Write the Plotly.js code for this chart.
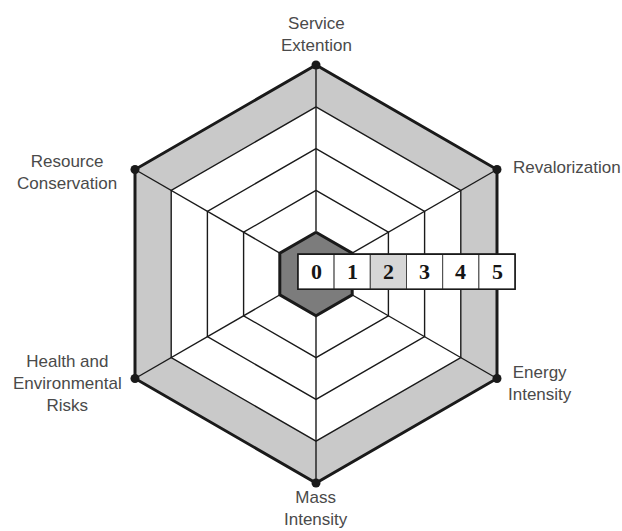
<!DOCTYPE html>
<html>
<head>
<meta charset="utf-8">
<script src="https://cdn.plot.ly/plotly-3.0.1.min.js"></script>
<style>
  html, body { margin: 0; padding: 0; background: #fff; }
  #chart { width: 622px; height: 531px; }
</style>
</head>
<body>
<div id="chart"></div>
<script>
// Hexagon axes, clockwise from the top
const axisNames = [
  'Service<br>Extention',
  'Revalorization',
  'Energy<br>Intensity',
  'Mass<br>Intensity',
  'Health and<br>Environmental<br>Risks',
  'Resource<br>Conservation'
];
const ringLevels = [1, 2, 3, 4, 5];
const scaleLabels = ['0', '1', '2', '3', '4', '5'];
const highlightedLevel = 2;
const maxLevel = 5;

const n = axisNames.length;
const angles = axisNames.map((_, i) => i * 360 / n);

// closed polygon at one ring level
function ring(level) {
  return {
    r: angles.map(() => level).concat(level),
    theta: angles.concat(angles[0])
  };
}

const ink = '#1a1a1a';
const traces = [];

// outer band (4..5) grey, thick border
traces.push({ type: 'scatterpolar', mode: 'lines', ...ring(maxLevel),
  fill: 'toself', fillcolor: '#c9c9c9', line: { color: ink, width: 3 } });

// inner rings
ringLevels.filter(l => l > 1 && l < maxLevel).reverse().forEach((l, i) => {
  const t = { type: 'scatterpolar', mode: 'lines', ...ring(l), line: { color: ink, width: 1.4 } };
  if (i === 0) { t.fill = 'toself'; t.fillcolor = '#ffffff'; }
  traces.push(t);
});

// spokes
const spokeR = [], spokeT = [];
angles.forEach(a => { spokeR.push(0, maxLevel, null); spokeT.push(a, a, null); });
traces.push({ type: 'scatterpolar', mode: 'lines', r: spokeR, theta: spokeT,
  line: { color: ink, width: 1.4 } });

// dark centre hexagon (level 1)
traces.push({ type: 'scatterpolar', mode: 'lines', ...ring(ringLevels[0]),
  fill: 'toself', fillcolor: '#7c7c7c', line: { color: ink, width: 3 } });

// vertex dots
traces.push({ type: 'scatterpolar', mode: 'markers',
  r: angles.map(() => maxLevel), theta: angles,
  marker: { color: ink, size: 9 } });

// invisible cartesian trace so the overlay axes exist for the scale box
traces.push({ type: 'scatter', x: [], y: [], hoverinfo: 'skip' });

// axis labels placed off each outer vertex
const labelPlace = [
  { xanchor: 'center', xshift: 0, yshift: 31 },
  { xanchor: 'left', xshift: 14, yshift: 2 },
  { xanchor: 'center', xshift: 43, yshift: -5 },
  { xanchor: 'center', xshift: 0, yshift: -25 },
  { xanchor: 'center', xshift: -68, yshift: -5 },
  { xanchor: 'center', xshift: -68, yshift: -3 }
];
const annotations = axisNames.map((name, i) => {
  const a = angles[i] * Math.PI / 180;
  return {
    xref: 'paper', yref: 'paper',
    x: 0.5 + 0.5 * Math.sin(a), y: 0.5 + 0.5 * Math.cos(a),
    text: name, showarrow: false, align: 'center',
    xanchor: labelPlace[i].xanchor, yanchor: 'middle',
    xshift: labelPlace[i].xshift, yshift: labelPlace[i].yshift,
    font: { family: 'Liberation Sans, Arial, sans-serif', size: 17, color: '#4a4a4a' }
  };
});

// scale box along the horizontal; 1 cartesian unit = one ring step (inradius)
const half = maxLevel / Math.cos(Math.PI / n);
const boxBottom = -0.42, boxTop = 0.55;
const shapes = [];
scaleLabels.forEach((lab, k) => {
  shapes.push({ type: 'rect', xref: 'x', yref: 'y', layer: 'above',
    x0: k - 0.5, x1: k + 0.5, y0: boxBottom, y1: boxTop,
    fillcolor: k === highlightedLevel ? '#d6d6d6' : '#ffffff',
    line: { color: '#444', width: 1 } });
  annotations.push({ xref: 'x', yref: 'y', x: k, y: (boxBottom + boxTop) / 2,
    text: '<b>' + lab + '</b>', showarrow: false,
    font: { family: 'Liberation Serif, Times New Roman, serif', size: 22, color: '#151515' } });
});
shapes.push({ type: 'rect', xref: 'x', yref: 'y', layer: 'above',
  x0: -0.5, x1: scaleLabels.length - 0.5, y0: boxBottom, y1: boxTop,
  line: { color: ink, width: 1.6 } });

const layout = {
  width: 622, height: 531,
  margin: { l: 107, r: 97, t: 65, b: 48 },
  paper_bgcolor: '#ffffff', plot_bgcolor: 'rgba(0,0,0,0)',
  showlegend: false,
  polar: {
    bgcolor: '#ffffff',
    radialaxis: { visible: false, range: [0, maxLevel] },
    angularaxis: { rotation: 90, direction: 'clockwise', showticklabels: false,
      showgrid: false, showline: false, ticks: '' }
  },
  xaxis: { range: [-half, half], visible: false, fixedrange: true },
  yaxis: { range: [-half, half], visible: false, fixedrange: true },
  shapes: shapes,
  annotations: annotations
};

Plotly.newPlot('chart', traces, layout, { staticPlot: true });
</script>
</body>
</html>
